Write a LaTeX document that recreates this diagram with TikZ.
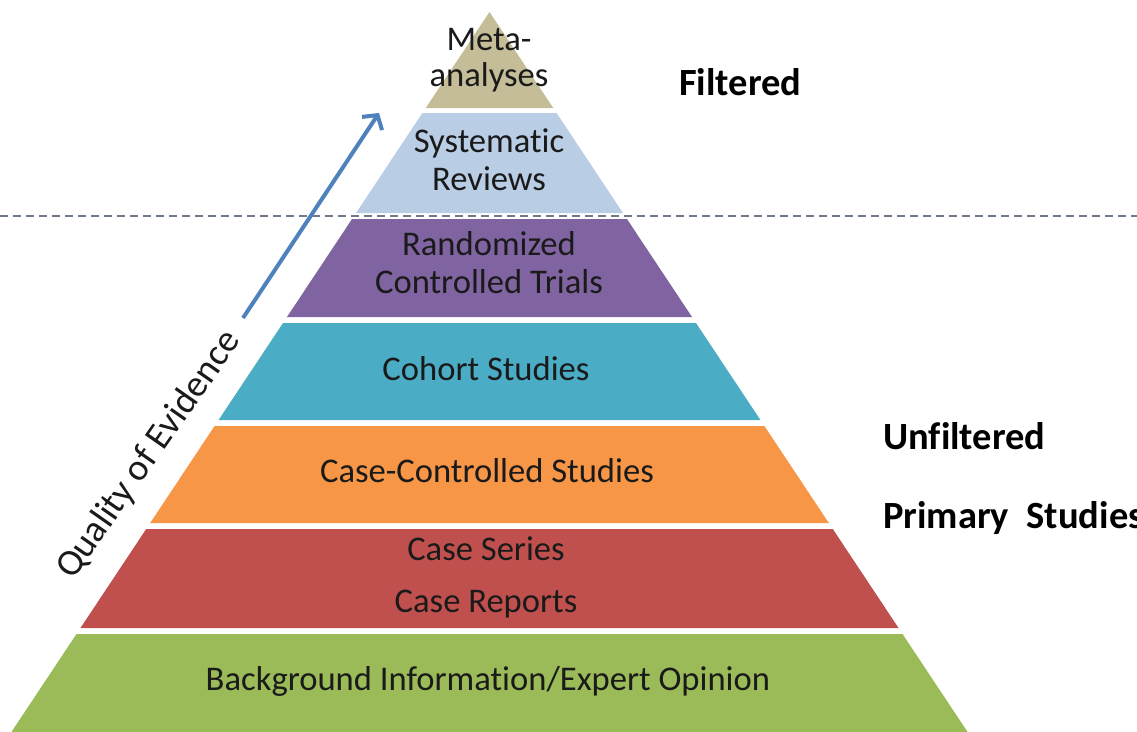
\documentclass[tikz,border=0pt]{standalone}
\usepackage{fontspec}
\setmainfont{Carlito}[Ligatures=NoCommon]
\usetikzlibrary{arrows.meta}

\definecolor{metaC}{HTML}{C4BD97}
\definecolor{sysC}{HTML}{B9CDE5}
\definecolor{rctC}{HTML}{8064A2}
\definecolor{cohortC}{HTML}{4BACC6}
\definecolor{caseC}{HTML}{F79646}
\definecolor{seriesC}{HTML}{C0504D}
\definecolor{bgC}{HTML}{9BBB59}
\definecolor{arrowC}{HTML}{4F81BD}
\definecolor{dashC}{RGB}{110,122,138}
\definecolor{inkC}{HTML}{1A1A1A}

\tikzset{
  lvl/.style={text=inkC, font=\fontsize{34.6}{40}\selectfont, anchor=base, inner sep=0pt},
  side/.style={text=black, font=\fontsize{38.5}{44}\selectfont\bfseries, anchor=base west, inner sep=0pt},
  axislabel/.style={text=inkC, font=\fontsize{37.5}{44}\selectfont, inner sep=0pt},
  divider/.style={dashC, line width=1.4pt, dash pattern=on 8pt off 5pt},
  quality/.style={arrowC, line width=4pt, -{Straight Barb[length=10pt,width=24pt]}}
}

% apex of the pyramid and half-width growth per unit of height
\def\ax{489.5}
\def\ay{12}
\def\sl{0.664}

\begin{document}
\begin{tikzpicture}[x=1pt,y=-1pt]
\useasboundingbox (0,0) rectangle (1137,731);
\fill[white] (0,0) rectangle (1137,731);

% pyramid layers: top y / bottom y / colour
\foreach \t/\b/\c in {12/108/metaC, 113/213/sysC, 219/317/rctC, 323/420/cohortC,
                      426/523/caseC, 529/628/seriesC, 634/735/bgC}{
  \fill[\c] ({\ax-\sl*(\t-\ay)},\t) -- ({\ax+\sl*(\t-\ay)},\t)
            -- ({\ax+\sl*(\b-\ay)},\b) -- ({\ax-\sl*(\b-\ay)},\b) -- cycle;
}

% layer labels
\node[lvl] (meta1) at (489,50) {Meta-};
\node[lvl] (meta2) at (489,86) {analyses};
\node[lvl] (sys1) at (489,152) {Systematic};
\node[lvl] (sys2) at (489,190) {Reviews};
\node[lvl] (rct1) at (489,255) {Randomized};
\node[lvl] (rct2) at (489,293) {Controlled Trials};
\node[lvl] (coh) at (486,380) {Cohort Studies};
\node[lvl] (cc) at (487,482) {Case-Controlled Studies};
\node[lvl] (ser) at (486,560) {Case Series};
\node[lvl] (rep) at (486,612) {Case Reports};
\node[lvl] (bgi) at (488,690) {Background Information/Expert Opinion};

% filtered / unfiltered split
\draw[divider] (0,216) -- (1137,216);

% side labels
\node[side] (filt) at (679,95) {Filtered};
\node[side] (unfilt) at (883,449) {Unfiltered};
\node[side] (prim) at (883,528) {Primary\ \ Studies};

% quality axis
\node[axislabel, rotate=55] (qual) at (149,455) {Quality of Evidence};
\coordinate (qs) at (243,318);
\coordinate (qe) at (379,113);
\draw[quality] (qs) -- (qe);
\end{tikzpicture}
\end{document}
